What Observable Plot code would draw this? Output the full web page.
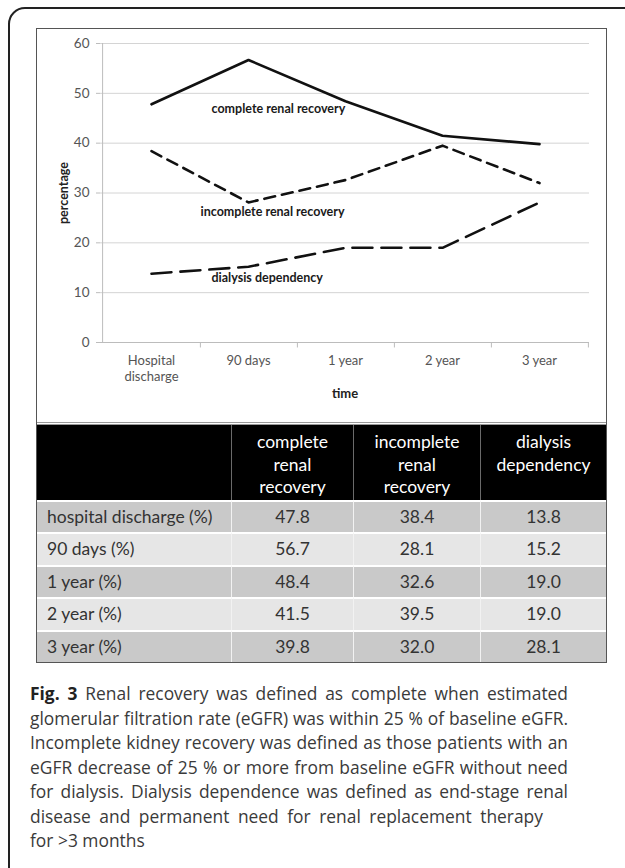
<!DOCTYPE html>
<html>
<head>
<meta charset="utf-8">
<script src="https://cdn.jsdelivr.net/npm/d3@7"></script>
<script src="https://cdn.jsdelivr.net/npm/@observablehq/plot@0.6"></script>
<style>
html, body { margin: 0; padding: 0; background: #fff; width: 625px; height: 868px; overflow: hidden; }
#outer { position: absolute; left: 8px; top: 7px; width: 700px; height: 900px; border: 2px solid #222; border-radius: 17px; box-sizing: border-box; }
#frame { position: absolute; left: 36px; top: 28px; width: 571px; border: 1px solid #555; box-sizing: border-box; background: #fff; }
#chart svg { display: block; }
#table { display: grid; grid-template-columns: 194px 122px 127px 126px; border-top: 3px double #999; font-family: Lato, "Open Sans", sans-serif; }
.hcell { background: #000; color: #fff; height: 75px; box-sizing: border-box; font-size: 17.5px; line-height: 22.5px; text-align: center; padding-top: 6px; white-space: pre-line; }
.hcell + .hcell { border-left: 1px solid #6a6a6a; }
.cell { height: 32.4px; box-sizing: border-box; border-top: 2px solid #fff; font-size: 17.5px; line-height: 30.4px; color: #333; text-align: center; }
.cell.lab { text-align: left; padding-left: 10px; }
.cell.v { border-left: 1px solid #f2f2f2; }
.dark { background: #c9c9c9; }
.light { background: #e6e6e6; }
#caption { position: absolute; left: 30px; top: 681px; width: 538px; font-family: "Open Sans", sans-serif; font-size: 17px; line-height: 24.5px; color: #3a3a3a; }
#caption div { white-space: nowrap; text-align: justify; text-align-last: justify; }
#caption div.free { text-align-last: left; }
#caption span.m { display: inline-block; }
#caption b { color: #222; }
</style>
</head>
<body>
<div id="outer"></div>
<div id="frame">
  <div id="chart"></div>
  <div id="table"></div>
</div>
<div id="caption"></div>
<script>
const categories = ["Hospital discharge", "90 days", "1 year", "2 year", "3 year"];
const tickLabels = ["Hospital\ndischarge", "90 days", "1 year", "2 year", "3 year"];
const complete = [47.8, 56.7, 48.4, 41.5, 39.8];
const incomplete = [38.4, 28.1, 32.6, 39.5, 32.0];
const dialysis = [13.8, 15.2, 19.0, 19.0, 28.1];
const yTicks = [0, 10, 20, 30, 40, 50, 60];
const seriesNames = ["complete renal recovery", "incomplete renal recovery", "dialysis dependency"];
const labelAnchor = ["90 days", "90 days", "90 days"];
const labelY = [46.8, 26.1, 13.0];
const labelDx = [-37, -48, -37];
const rowLabels = ["hospital discharge (%)", "90 days (%)", "1 year (%)", "2 year (%)", "3 year (%)"];
const headerLabels = ["complete\nrenal\nrecovery", "incomplete\nrenal\nrecovery", "dialysis\ndependency"];
const captionLines = [
  "Renal recovery was defined as complete when estimated",
  "glomerular filtration rate (eGFR) was within 25 % of baseline eGFR.",
  "Incomplete kidney recovery was defined as those patients with an",
  "eGFR decrease of 25 % or more from baseline eGFR without need",
  "for dialysis. Dialysis dependence was defined as end-stage renal",
  "disease and permanent need for renal replacement therapy",
  "for >3 months"
];

const FONT = "Lato, 'Open Sans', sans-serif";
const W = 569, ML = 63, MR = 17;
const step = (W - ML - MR) / categories.length;
const rows = categories.map((c, i) => ({c, complete: complete[i], incomplete: incomplete[i], dialysis: dialysis[i]}));
const labels = seriesNames.map((t, i) => ({t, x: labelAnchor[i], y: labelY[i]}));

const chart = Plot.plot({
  width: W,
  height: 393,
  marginLeft: ML,
  marginRight: MR,
  marginTop: 14,
  marginBottom: 80,
  style: {fontFamily: FONT, fontSize: "12px", background: "#fff"},
  x: {type: "point", domain: categories, padding: 0.5, label: null},
  y: {domain: [0, 60], label: null},
  marks: [
    Plot.gridY(yTicks, {stroke: "#d4d4d4", strokeOpacity: 1}),
    Plot.ruleY([0], {stroke: "#bcbcbc"}),
    Plot.ruleX([categories[0]], {y1: 0, y2: 60, dx: -step / 2, stroke: "#bcbcbc"}),
    Plot.link(categories, {x1: d => d, x2: d => d, y1: 0, y2: -1, dx: step / 2, stroke: "#bcbcbc"}),
    Plot.axisY(yTicks, {tickSize: 4, tickPadding: 7, fontSize: 13.5, stroke: "#bcbcbc", fill: "#555"}),
    Plot.axisX({tickSize: 0, tickPadding: 11, fontSize: 13, lineHeight: 1.25, fill: "#555", tickFormat: d => tickLabels[categories.indexOf(d)]}),
    Plot.text(["percentage"], {frameAnchor: "left", textAnchor: "middle", lineAnchor: "middle", dx: -37, rotate: -90, fontFamily: FONT, fontWeight: "bold", fontSize: 12.5, fill: "#222"}),
    Plot.text(["time"], {frameAnchor: "bottom", dy: 55, fontFamily: FONT, fontWeight: "bold", fontSize: 13, fill: "#222"}),
    Plot.line(rows, {x: "c", y: "complete", stroke: "#111", strokeWidth: 2.6}),
    Plot.line(rows, {x: "c", y: "incomplete", stroke: "#111", strokeWidth: 2.6, strokeDasharray: "11,7"}),
    Plot.line(rows, {x: "c", y: "dialysis", stroke: "#111", strokeWidth: 2.6, strokeDasharray: "20,9"}),
    Plot.text(labels.slice(0, 1), {x: "x", y: "y", text: "t", dx: labelDx[0], textAnchor: "start", fontFamily: FONT, fontWeight: "bold", fontSize: 12.5, fill: "#1a1a1a"}),
    Plot.text(labels.slice(1, 2), {x: "x", y: "y", text: "t", dx: labelDx[1], textAnchor: "start", fontFamily: FONT, fontWeight: "bold", fontSize: 12.5, fill: "#1a1a1a"}),
    Plot.text(labels.slice(2, 3), {x: "x", y: "y", text: "t", dx: labelDx[2], textAnchor: "start", fontFamily: FONT, fontWeight: "bold", fontSize: 12.5, fill: "#1a1a1a"})
  ]
});
document.getElementById("chart").appendChild(chart);

// table
const table = d3.select("#table");
table.append("div").attr("class", "hcell").text("");
headerLabels.forEach(h => table.append("div").attr("class", "hcell").text(h));
rowLabels.forEach((r, i) => {
  const cls = i % 2 === 0 ? "dark" : "light";
  table.append("div").attr("class", "cell lab " + cls).text(r);
  [complete[i], incomplete[i], dialysis[i]].forEach(v =>
    table.append("div").attr("class", "cell v " + cls).text(v.toFixed(1)));
});

// caption
const cap = d3.select("#caption");
const capDivs = [];
captionLines.forEach((l, i) => {
  const d = cap.append("div");
  if (i >= captionLines.length - 2) d.attr("class", "free");
  const m = d.append("span").attr("class", "m");
  if (i === 0) { m.append("b").text("Fig. 3"); m.append("span").text(" " + l); }
  else m.text(l);
  capDivs.push({d, m});
});
const capEl = document.getElementById("caption");
let fs = 18.5;
function widest() { return d3.max(capDivs, o => o.m.node().getBoundingClientRect().width); }
capEl.style.fontSize = fs + "px";
while (widest() > 536 && fs > 12) { fs -= 0.1; capEl.style.fontSize = fs + "px"; }
capDivs.forEach(o => o.m.style("display", "inline"));
capDivs[captionLines.length - 2].d.style("word-spacing", "4px");
</script>
</body>
</html>
